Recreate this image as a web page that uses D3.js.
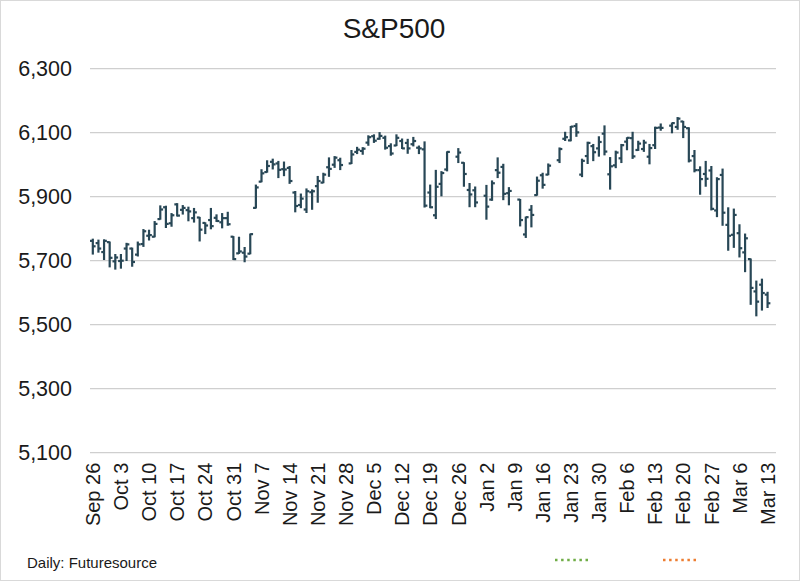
<!DOCTYPE html>
<html><head><meta charset="utf-8">
<script src="https://cdn.jsdelivr.net/npm/d3@7/dist/d3.min.js"></script>
<style>
html,body{margin:0;padding:0;background:#fff;}
svg{display:block;font-family:"Liberation Sans",Arial,sans-serif;}
</style></head><body>
<svg id="chart" width="800" height="581"></svg>
<script>
const dates = ["Sep 26","Sep 27","Sep 30","Oct 1","Oct 2","Oct 3","Oct 4","Oct 7","Oct 8","Oct 9","Oct 10","Oct 11","Oct 14","Oct 15","Oct 16","Oct 17","Oct 18","Oct 21","Oct 22","Oct 23","Oct 24","Oct 25","Oct 28","Oct 29","Oct 30","Oct 31","Nov 1","Nov 4","Nov 5","Nov 6","Nov 7","Nov 8","Nov 11","Nov 12","Nov 13","Nov 14","Nov 15","Nov 18","Nov 19","Nov 20","Nov 21","Nov 22","Nov 25","Nov 26","Nov 27","Nov 28","Nov 29","Dec 2","Dec 3","Dec 4","Dec 5","Dec 6","Dec 9","Dec 10","Dec 11","Dec 12","Dec 13","Dec 16","Dec 17","Dec 18","Dec 19","Dec 20","Dec 23","Dec 24","Dec 25","Dec 26","Dec 27","Dec 30","Dec 31","Jan 1","Jan 2","Jan 3","Jan 6","Jan 7","Jan 8","Jan 9","Jan 10","Jan 13","Jan 14","Jan 15","Jan 16","Jan 17","Jan 20","Jan 21","Jan 22","Jan 23","Jan 24","Jan 27","Jan 28","Jan 29","Jan 30","Jan 31","Feb 3","Feb 4","Feb 5","Feb 6","Feb 7","Feb 10","Feb 11","Feb 12","Feb 13","Feb 14","Feb 17","Feb 18","Feb 19","Feb 20","Feb 21","Feb 24","Feb 25","Feb 26","Feb 27","Feb 28","Mar 3","Mar 4","Mar 5","Mar 6","Mar 7","Mar 10","Mar 11","Mar 12","Mar 13","Mar 14"];

const open = [5762,5755,5727,5758,5698,5699,5738,5738,5719,5752,5778,5775,5830,5867,5817,5876,5859,5858,5833,5835,5818,5827,5834,5820,5833,5775,5723,5725,5722,5865,5947,5977,6009,6004,5986,5990,5913,5874,5860,5914,5933,5944,5992,6000,6014,null,6004,6040,6043,6069,6089,6081,6084,6058,6060,6074,6068,6064,6053,6048,5913,5842,5940,5985,null,6025,6006,5921,5920,null,5903,5891,5983,5993,5911,null,5891,5782,5859,5905,5967,5969,null,6014,6081,6076,6121,5969,6027,6058,6051,6097,5970,5998,6020,6072,6083,6046,6049,6025,6061,6116,null,6122,6118,6135,6114,6027,5983,5971,5982,5857,5968,5812,5781,5786,5726,5705,5604,5625,5594,null];
const high = [5767,5764,5765,5758,5719,5719,5754,5739,5758,5797,5795,5822,5871,5870,5847,5878,5872,5867,5863,5835,5818,5863,5843,5847,5851,5775,5773,5741,5783,5936,5984,6012,6017,6010,6008,5994,5916,5908,5924,5921,5963,5973,6021,6025,6020,null,6044,6054,6053,6090,6093,6100,6089,6065,6093,6080,6079,6085,6058,6071,5936,5982,5978,6040,null,6050,6006,5941,5930,null,5935,5949,6021,6001,5928,null,5891,5836,5872,5961,5973,6002,null,6052,6101,6119,6128,6017,6070,6063,6087,6121,6022,6042,6063,6084,6101,6073,6076,6063,6117,6127,null,6130,6147,6135,6115,6044,5993,6010,5994,5959,5986,5865,5861,5812,5783,5705,5636,5642,5601,null];
const low = [5721,5727,5704,5681,5674,5677,5701,5683,5715,5745,5765,5775,5830,5804,5808,5840,5846,5825,5821,5762,5785,5800,5823,5803,5811,5704,5723,5697,5722,5865,5947,5977,5987,5960,5966,5942,5853,5866,5851,5861,5883,5944,5964,5992,5985,null,6004,6035,6033,6061,6070,6080,6049,6030,6060,6051,6036,6059,6035,5868,5866,5832,5903,5981,null,6007,5933,5869,5869,null,5830,5889,5960,5891,5875,null,5809,5773,5806,5905,5927,5969,null,6007,6076,6075,6089,5963,6004,6013,6027,6031,5924,5991,6007,6047,6020,6045,6042,6003,6051,6108,null,6100,6111,6085,6009,5978,5908,5933,5859,5838,5811,5733,5742,5712,5666,5564,5528,5546,5554,null];
const close = [5745,5738,5762,5709,5710,5700,5751,5696,5751,5792,5780,5815,5860,5815,5842,5841,5865,5854,5851,5797,5810,5808,5824,5833,5814,5705,5729,5713,5783,5929,5973,5996,6001,5984,5985,5949,5871,5894,5917,5917,5949,5969,5987,6022,5999,null,6032,6047,6050,6086,6075,6090,6053,6035,6084,6051,6051,6074,6051,5872,5867,5931,5974,6040,null,6038,5971,5907,5882,null,5869,5942,5975,5909,5918,null,5827,5836,5843,5950,5937,5997,null,6049,6086,6119,6101,6012,6068,6039,6071,6041,5995,6038,6061,6084,6026,6066,6069,6052,6115,6115,null,6130,6144,6118,6013,5983,5955,5956,5862,5955,5850,5778,5843,5739,5770,5615,5572,5599,5567,null];

const yTicks = [5100,5300,5500,5700,5900,6100,6300];
const xTickLabels = ["Sep 26","Oct 3","Oct 10","Oct 17","Oct 24","Oct 31","Nov 7","Nov 14","Nov 21","Nov 28","Dec 5","Dec 12","Dec 19","Dec 26","Jan 2","Jan 9","Jan 16","Jan 23","Jan 30","Feb 6","Feb 13","Feb 20","Feb 27","Mar 6","Mar 13"];

const svg = d3.select("#chart");
const L = 90, R = 776, T = 68.7, B = 452.7;
const x = d3.scaleBand().domain(dates).range([L, R]);
const y = d3.scaleLinear().domain([5100, 6300]).range([B, T]);
const fmt = d3.format(",");

// outer frame
svg.append("rect").attr("x",0.5).attr("y",0.5).attr("width",799).attr("height",580)
  .attr("fill","#fff").attr("stroke","#d9d9d9").attr("stroke-width",1);

// title
svg.append("text").attr("x",394).attr("y",38).attr("text-anchor","middle")
  .attr("font-size",28).attr("fill","#1a1a1a").text("S&P500");

// gridlines
svg.append("g").selectAll("line").data(yTicks).join("line")
  .attr("x1",L).attr("x2",R).attr("y1",d=>y(d)).attr("y2",d=>y(d))
  .attr("stroke","#cfcfcf").attr("stroke-width",1.3);

// y labels
svg.append("g").selectAll("text").data(yTicks).join("text")
  .attr("x",72).attr("y",d=>y(d)).attr("dy","0.36em").attr("text-anchor","end")
  .attr("font-size",21.5).attr("fill","#1a1a1a").text(d=>fmt(d));

// x axis
const xAxis = d3.axisBottom(x).tickValues(xTickLabels).tickSize(0).tickPadding(0);
const gx = svg.append("g").attr("transform",`translate(0,${B})`).call(xAxis);
gx.select(".domain").remove();
gx.selectAll("text")
  .attr("font-family","Liberation Sans, Arial, sans-serif")
  .attr("font-size",20).attr("fill","#1a1a1a")
  .attr("transform","rotate(-90)")
  .attr("text-anchor","end")
  .attr("x",-10).attr("y",0).attr("dy","0.36em");

// OHLC bars
const data = dates.map((d,i)=>({d, o:open[i], h:high[i], l:low[i], c:close[i]})).filter(v=>v.h!=null);
const tick = x.bandwidth()/2;
const col = "#284756";
const gb = svg.append("g").attr("stroke",col).attr("stroke-width",2.2).attr("fill","none");
const bar = gb.selectAll("g").data(data).join("g");
const cx = v => x(v.d)+x.bandwidth()/2;
bar.append("line")
  .attr("x1",cx).attr("x2",cx)
  .attr("y1",v=>y(v.h)-0.6).attr("y2",v=>y(v.l)+0.6);
bar.append("line")
  .attr("x1",v=>cx(v)-tick).attr("x2",cx)
  .attr("y1",v=>y(v.o)).attr("y2",v=>y(v.o));
bar.append("line")
  .attr("x1",cx).attr("x2",v=>cx(v)+tick)
  .attr("y1",v=>y(v.c)).attr("y2",v=>y(v.c));

// footer
svg.append("text").attr("x",27).attr("y",568).attr("font-size",15).attr("fill","#1a1a1a")
  .text("Daily: Futuresource");

// legend markers (dotted lines)
const legend = [{c:"#70ad47", x1:555, x2:591},{c:"#ed7d31", x1:663, x2:699}];
svg.append("g").selectAll("line").data(legend).join("line")
  .attr("x1",d=>d.x1).attr("x2",d=>d.x2).attr("y1",560).attr("y2",560)
  .attr("stroke",d=>d.c).attr("stroke-width",2.5).attr("stroke-dasharray","2.5,3.6");
</script>
</body></html>
